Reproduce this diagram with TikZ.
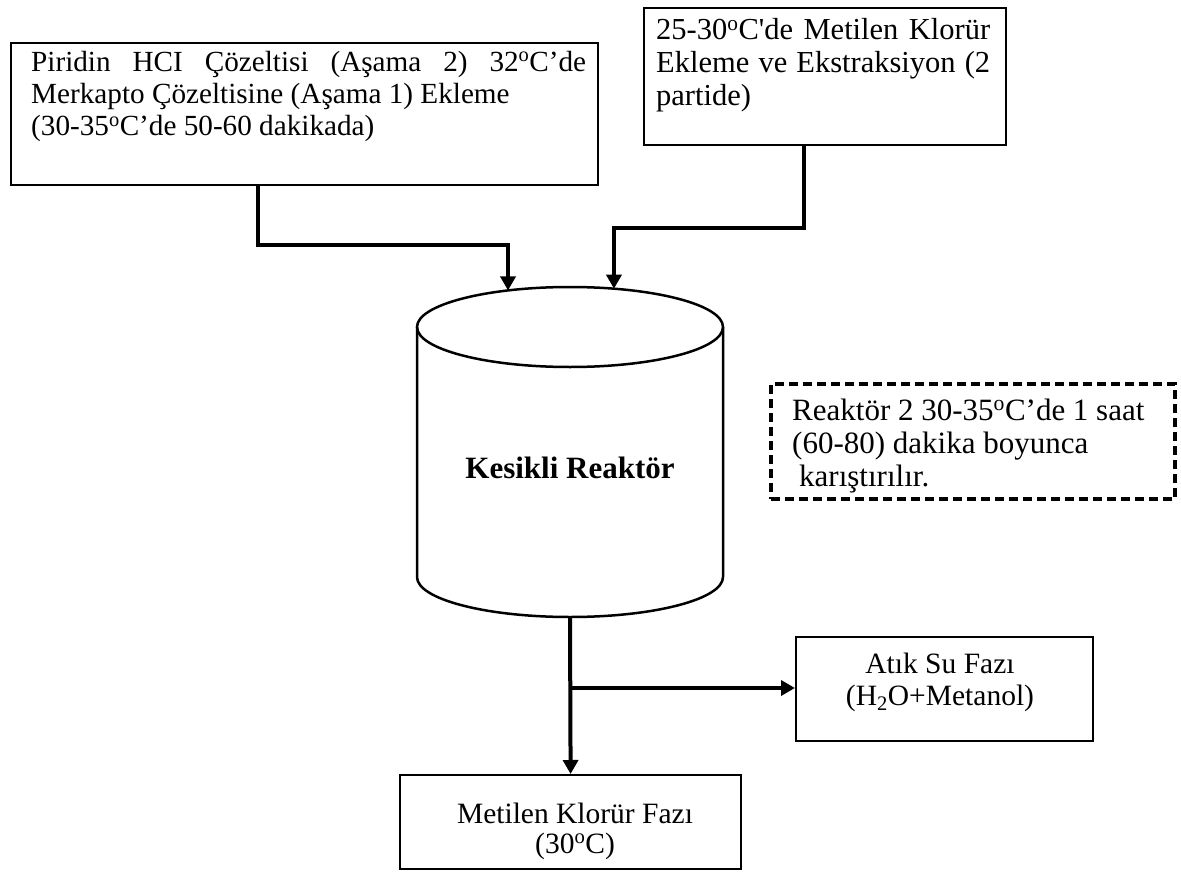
\documentclass[tikz,border=0pt]{standalone}
\usepackage{fontspec}
\newfontfamily\tnr{Liberation Serif}
\usetikzlibrary{arrows.meta,calc}
\newcommand\degsup{\textsuperscript{o}}

\begin{document}
\begin{tikzpicture}[x=1pt,y=-1pt,
  box/.style={draw, line width=2.2pt, rectangle, inner sep=0pt, anchor=north west},
  note/.style={draw, line width=3.5pt, dash pattern=on 9pt off 5pt, rectangle, inner sep=0pt, anchor=north west},
  txt/.style={inner sep=0pt, font=\tnr\fontsize{29.5}{32.5}\selectfont},
  notetxt/.style={inner sep=0pt, font=\tnr\fontsize{31}{33}\selectfont},
  flow/.style={line width=4pt, -{Triangle[width=15pt,length=14pt]}},
  vessel/.style={line width=2.5pt}]

% page
\path[use as bounding box, fill=white] (0,0) rectangle (1181,875);

% feed boxes
\node[box, minimum width=587pt, minimum height=142pt] (feedA) at (10,42) {};
\node[txt, anchor=base west, font=\tnr\fontsize{29.2}{32.5}\selectfont] (feedAtext) at (31,71)
  {\parbox[t]{555pt}{\raggedright
    \makebox[555pt][s]{Piridin HCI Çözeltisi (Aşama 2) 32\degsup C’de}\\
    Merkapto Çözeltisine (Aşama 1) Ekleme\\
    (30-35\degsup C’de 50-60 dakikada)}};

\node[box, minimum width=362pt, minimum height=137pt] (feedB) at (643,7) {};
\node[txt, anchor=base west, font=\tnr\fontsize{30.5}{33}\selectfont] (feedBtext) at (656,40)
  {\parbox[t]{334pt}{\raggedright
    \makebox[334pt][s]{25-30\degsup C'de Metilen Klorür}\\
    \makebox[334pt][s]{Ekleme ve Ekstraksiyon (2}\\
    partide)}};

% batch reactor
\coordinate (ctop) at (570,327);
\coordinate (cbase) at (570,577);
\draw[vessel] (417,327) -- (417,577)
  arc[start angle=180, end angle=0, x radius=153, y radius=40] -- (723,327);
\draw[vessel] (ctop) ellipse[x radius=153, y radius=40];
\node[inner sep=0pt, anchor=base, font=\tnr\bfseries\fontsize{31}{34}\selectfont]
  (reactor) at (570,478) {Kesikli Reaktör};
\coordinate (inA) at ($(ctop)+(-113.9:153 and 40)$);
\coordinate (inB) at ($(ctop)+(-73.3:153 and 40)$);
\coordinate (outlet) at (570,617);

% stirring note
\node[note, minimum width=404pt, minimum height=115pt] (stir) at (769,382) {};
\node[notetxt, anchor=base west] (stirtext) at (792,420)
  {\parbox[t]{370pt}{\raggedright
    Reaktör 2 30-35\degsup C’de 1 saat\\
    (60-80) dakika boyunca\\
    \hspace*{7pt}karıştırılır.}};

% product boxes
\node[box, minimum width=297pt, minimum height=104pt] (water) at (795,636) {};
\node[txt, anchor=base] (watertext) at (940,673)
  {\parbox[t]{280pt}{\centering Atık Su Fazı\\ (H\textsubscript{2}O+Metanol)}};

\node[box, minimum width=341pt, minimum height=94pt] (organic) at (399,774) {};
\node[txt, anchor=base] (organictext) at (575,823)
  {\parbox[t]{320pt}{\centering\baselineskip=30pt Metilen Klorür Fazı\\ (30\degsup C)}};

% feed lines
\coordinate (xA) at (258,0);
\coordinate (yA) at (0,245);
\coordinate (xB) at (804,0);
\coordinate (yB) at (0,228);
\draw[flow] (feedA.south -| xA) -- (xA |- yA) -- (inA |- yA) -- (inA);
\draw[flow] (feedB.south -| xB) -- (xB |- yB) -- (inB |- yB) -- (inB);

% outlet lines
\coordinate (split) at (570,688);
\draw[flow] (outlet) -- (organic.north);
\draw[flow] (split) -- (split -| water.west);
\end{tikzpicture}
\end{document}
